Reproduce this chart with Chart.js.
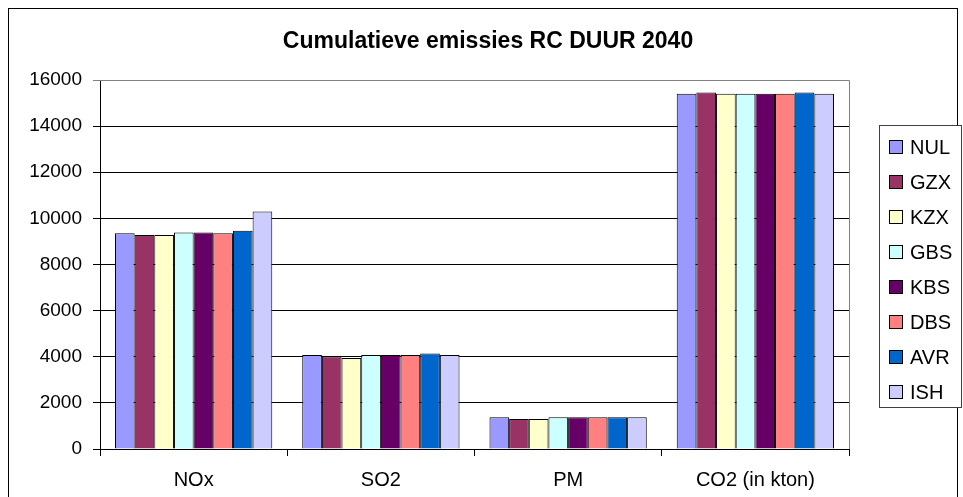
<!DOCTYPE html>
<html>
<head>
<meta charset="utf-8">
<script src="https://cdn.jsdelivr.net/npm/chart.js@4.4.1/dist/chart.umd.min.js"></script>
<style>
  html, body { margin: 0; padding: 0; background: #fff; }
  #wrap { width: 963px; height: 497px; position: relative; }
</style>
</head>
<body>
<div id="wrap"><canvas id="c" width="963" height="497"></canvas></div>
<script>
// Emission categories and scenario series
const categories = ['NOx', 'SO2', 'PM', 'CO2 (in kton)'];
const seriesNames = ['NUL', 'GZX', 'KZX', 'GBS', 'KBS', 'DBS', 'AVR', 'ISH'];
const NUL = [9350, 4080, 1380, 15400];
const GZX = [9280, 4020, 1300, 15460];
const KZX = [9280, 3950, 1300, 15400];
const GBS = [9390, 4080, 1380, 15400];
const KBS = [9390, 4080, 1380, 15400];
const DBS = [9350, 4080, 1380, 15400];
const AVR = [9460, 4140, 1380, 15460];
const ISH = [10300, 4080, 1380, 15400];
const yTicks = [0, 2000, 4000, 6000, 8000, 10000, 12000, 14000, 16000];
const titleText = 'Cumulatieve emissies RC DUUR 2040';

const seriesValues = [NUL, GZX, KZX, GBS, KBS, DBS, AVR, ISH];
const seriesColors = ['#9999FF', '#993366', '#FFFFCC', '#CCFFFF', '#660066', '#FF8080', '#0066CC', '#CCCCFF'];
const FONT = '"Liberation Sans", Arial, sans-serif';

const datasets = seriesNames.map((name, i) => ({
  label: name,
  data: seriesValues[i],
  backgroundColor: seriesColors[i],
  borderColor: '#000',
  borderWidth: 1,
  categoryPercentage: 0.84,
  barPercentage: 1.0
}));

// Frame, title, plot border and legend box
const decorations = {
  id: 'decorations',
  beforeDraw(chart) {
    const ctx = chart.ctx;
    ctx.save();
    ctx.fillStyle = '#fff';
    ctx.fillRect(0, 0, chart.width, chart.height);
    ctx.strokeStyle = '#000';
    ctx.lineWidth = 1;
    ctx.strokeRect(8.5, 8.5, 949, 520);
    ctx.fillStyle = '#000';
    ctx.font = 'bold 23px ' + FONT;
    ctx.textAlign = 'center';
    ctx.textBaseline = 'middle';
    ctx.fillText(titleText, 488, 42);
    ctx.restore();
  },
  afterDatasetsDraw(chart) {
    const ctx = chart.ctx;
    const a = chart.chartArea;
    ctx.save();
    ctx.strokeStyle = '#808080';
    ctx.lineWidth = 1;
    ctx.beginPath();
    ctx.moveTo(a.left, Math.round(a.top) + 0.5);
    ctx.lineTo(Math.round(a.right) + 0.5, Math.round(a.top) + 0.5);
    ctx.lineTo(Math.round(a.right) + 0.5, a.bottom);
    ctx.stroke();

    // legend
    const lx = 879, ly = 125, lw = 82, lh = 282;
    ctx.fillStyle = '#fff';
    ctx.fillRect(lx, ly, lw, lh);
    ctx.strokeStyle = '#404040';
    ctx.strokeRect(lx + 0.5, ly + 0.5, lw, lh);
    ctx.font = '20px ' + FONT;
    ctx.textAlign = 'left';
    ctx.textBaseline = 'middle';
    chart.data.datasets.forEach((ds, i) => {
      const cy = 147 + i * 35;
      ctx.fillStyle = ds.backgroundColor;
      ctx.fillRect(889.5, cy - 6.5, 13, 13);
      ctx.strokeStyle = '#000';
      ctx.strokeRect(889.5, cy - 6.5, 13, 13);
      ctx.fillStyle = '#000';
      ctx.fillText(ds.label, 910, cy + 1);
    });
    ctx.restore();
  }
};

new Chart(document.getElementById('c'), {
  type: 'bar',
  data: { labels: categories, datasets },
  options: {
    responsive: false,
    animation: false,
    devicePixelRatio: 1,
    layout: { padding: { top: 80, right: 114, left: 0, bottom: 0 } },
    plugins: {
      legend: { display: false },
      title: { display: false },
      tooltip: { enabled: false }
    },
    scales: {
      x: {
        offset: true,
        grid: {
          offset: true,
          drawOnChartArea: false,
          drawTicks: true,
          tickLength: 7,
          color: '#000'
        },
        border: { color: '#000', width: 1 },
        ticks: {
          color: '#000',
          font: { family: FONT, size: 20 },
          padding: 12,
          maxRotation: 0
        },
        afterFit(scale) { scale.height = 48; }
      },
      y: {
        min: 0,
        max: 16000,
        afterBuildTicks(scale) { scale.ticks = yTicks.map(v => ({ value: v })); },
        grid: {
          color: c => (c.tick && c.tick.value === 16000 ? '#808080' : '#000'),
          tickLength: 7,
          drawTicks: true
        },
        border: { color: '#000', width: 1 },
        ticks: {
          color: '#000',
          font: { family: FONT, size: 19 },
          padding: 11,
          callback: v => String(v)
        },
        afterFit(scale) { scale.width = 100; }
      }
    }
  },
  plugins: [decorations]
});
</script>
</body>
</html>
